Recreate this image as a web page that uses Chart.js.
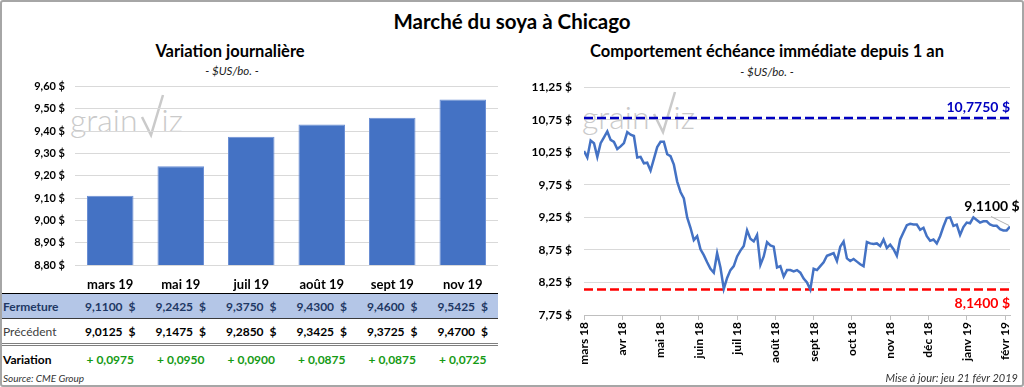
<!DOCTYPE html>
<html lang="fr">
<head>
<meta charset="utf-8">
<title>Marché du soya à Chicago</title>
<script src="https://cdn.jsdelivr.net/npm/chart.js@4.4.1/dist/chart.umd.min.js"></script>
<style>
  body { margin: 0; background: #fff; font-family: Lato, "Noto Sans", sans-serif; }
  #cadre { position: relative; width: 1024px; height: 387px; overflow: hidden; background: #fff; }
  #bordure { position: absolute; left: 0; top: 0; width: 1024px; height: 387px; box-sizing: border-box;
             border: 2px solid #a6a6a6; border-radius: 3px; pointer-events: none; }
  .abs { position: absolute; white-space: nowrap; }
  .titre { font-weight: bold; text-align: center; line-height: 1; }
  .sous { font-style: italic; font-size: 11.5px; text-align: center; line-height: 1; color: #222; }
  canvas { position: absolute; }
  .filigrane { position: absolute; color: #cacaca; font-size: 32px; font-weight: 300; line-height: 32px; }
  .filigrane svg { position: absolute; }
  .rangee { position: absolute; left: 0; width: 498px; display: flex; align-items: center;
            box-sizing: border-box; font-size: 12px; }
  .tete { width: 75px; padding-left: 3px; box-sizing: border-box; }
  .cell { width: 70.5px; text-align: center; font-weight: bold; }
  .cell i { font-style: normal; margin-left: 6px; }
  .note { font-style: italic; font-size: 10px; line-height: 1; color: #333; }
</style>
</head>
<body>
<div id="cadre">
  <div class="abs titre" style="left:212px; width:600px; top:11px; font-size:20.5px;">Marché du soya à Chicago</div>

  <div class="abs titre" style="left:30px; width:400px; top:43px; font-size:16.5px;">Variation journalière</div>
  <div class="abs sous" style="left:132px; width:200px; top:65px;">- $US/bo. -</div>

  <div class="abs titre" style="left:517px; width:500px; top:43px; font-size:16.5px;">Comportement échéance immédiate depuis 1 an</div>
  <div class="abs sous" style="left:667px; width:200px; top:66px;">- $US/bo. -</div>

  <div class="filigrane" style="left:70px; top:104px;">grain<svg style="left:70px; top:-11px" width="26" height="46"><polyline points="2,24 11,42 23,2" fill="none" stroke="#cacaca" stroke-width="2.5"/></svg><span style="margin-left:24px">iz</span></div>
  <div class="filigrane" style="left:582px; top:101px;">grain<svg style="left:70px; top:-11px" width="26" height="46"><polyline points="2,24 11,42 23,2" fill="none" stroke="#cacaca" stroke-width="2.5"/></svg><span style="margin-left:24px">iz</span></div>

  <canvas id="barres" width="505" height="223" style="left:0; top:70px;"></canvas>
  <canvas id="ligne" width="519" height="307" style="left:505px; top:68px;"></canvas>

  <div id="r1" class="rangee" style="top:293px; height:25px; border-top:1px solid #000; background:#b4c6e7; color:#1f3864;"></div>
  <div id="r2" class="rangee" style="top:318px; height:25px; border-top:1px solid #3a3a3a; color:#000;"></div>
  <div id="r3" class="rangee" style="top:343px; height:29px; border-top:3px double #7f7f7f; color:#000;"></div>

  <div class="abs note" style="left:3px; top:373px;">Source: CME Group</div>
  <div class="abs note" style="right:6px; top:372px; font-size:11px;">Mise à jour: jeu 21 févr 2019</div>
  <div id="bordure"></div>
</div>

<script>
// contrats a terme (graphique de gauche + tableau)
const contrats = ["mars 19", "mai 19", "juil 19", "août 19", "sept 19", "nov 19"];
const fermeture = [9.1100, 9.2425, 9.3750, 9.4300, 9.4600, 9.5425];
const precedent = [9.0125, 9.1475, 9.2850, 9.3425, 9.3725, 9.4700];
const variation = [0.0975, 0.0950, 0.0900, 0.0875, 0.0875, 0.0725];

// echeance immediate, 1 an (graphique de droite)
const moisEtiquettes = ["mars 18", "avr 18", "mai 18", "juin 18", "juil 18", "août 18",
  "sept 18", "oct 18", "nov 18", "déc 18", "janv 19", "févr 19"];
const POINTS_PAR_MOIS = 11.5;
const coursSoya = [
  10.27, 10.17, 10.43, 10.39, 10.18, 10.39, 10.48, 10.57, 10.44, 10.41, 10.30, 10.34, 10.39, 10.56,
  10.52, 10.50, 10.17, 10.18, 10.08, 10.09, 9.97, 10.15, 10.33, 10.41, 10.41, 10.22, 10.19, 10.06,
  9.80, 9.64, 9.54,
  9.25, 9.09, 8.90, 8.96, 8.76, 8.67, 8.56, 8.46, 8.40, 8.70, 8.48, 8.15, 8.32, 8.44, 8.50, 8.65,
  8.74, 8.81, 9.05, 8.92, 8.88, 8.98, 8.52, 8.65, 8.87, 8.82, 8.80, 8.48, 8.50, 8.34, 8.44, 8.44, 8.42,
  8.44, 8.40, 8.31, 8.25, 8.14, 8.46, 8.44, 8.50, 8.56, 8.66, 8.68, 8.70, 8.58, 8.80, 8.88, 8.62,
  8.58, 8.61, 8.57, 8.53, 8.50, 8.87, 8.85, 8.84, 8.85, 8.81, 8.91, 8.78, 8.83, 8.76, 8.66, 8.91, 9.02,
  9.13, 9.15, 9.14, 9.14, 9.06, 9.09, 8.96, 8.89, 8.91, 8.85, 8.96, 9.11, 9.24, 9.25, 9.12, 9.14,
  8.98, 9.10, 9.17, 9.16, 9.25, 9.21, 9.17, 9.19, 9.19, 9.14, 9.12, 9.12, 9.07, 9.05, 9.05, 9.11
];
const plusHaut = 10.775;
const plusBas = 8.14;

const virgule = (v, d) => v.toFixed(d).replace(".", ",");

Chart.defaults.font.family = "Lato, 'Noto Sans', sans-serif";
Chart.defaults.color = "#000";

// tableau sous les barres
function rangee(id, titre, styleTitre, valeurs, texte) {
  document.getElementById(id).innerHTML =
    `<span class="tete" style="${styleTitre}">${titre}</span>` +
    valeurs.map((v) => `<span class="cell">${texte(v)}</span>`).join("");
}
rangee("r1", "Fermeture", "font-weight:bold", fermeture, (v) => `${virgule(v, 4)}<i>$</i>`);
rangee("r2", "Précédent", "color:#404040", precedent, (v) => `${virgule(v, 4)}<i>$</i>`);
rangee("r3", "Variation", "font-weight:bold", variation,
  (v) => `<span style="color:#159a15">+ ${virgule(v, 4)}</span>`);

new Chart(document.getElementById("barres"), {
  type: "bar",
  data: {
    labels: contrats,
    datasets: [{
      data: fermeture,
      backgroundColor: "#4472c4",
      borderColor: "#6b8fd4",
      borderWidth: { left: 1, right: 1, top: 1, bottom: 0 },
      barPercentage: 0.66,
      categoryPercentage: 1,
    }],
  },
  options: {
    responsive: false,
    animation: false,
    layout: { padding: { top: 0, right: 7, left: 0, bottom: 0 } },
    plugins: { legend: { display: false }, tooltip: { enabled: false } },
    scales: {
      x: {
        grid: { display: false, drawTicks: false },
        border: { display: false },
        ticks: { font: { size: 13, weight: "bold" }, padding: 12 },
        afterFit: (s) => { s.height = 28; },
      },
      y: {
        min: 8.8,
        max: 9.6,
        ticks: { stepSize: 0.1, padding: 10, font: { size: 11, weight: "bold" },
                 callback: (v) => virgule(v, 2) + " $" },
        grid: { color: "#d9d9d9", drawTicks: false },
        border: { display: false },
        afterFit: (s) => { s.width = 75; },
      },
    },
  },
});

// etiquettes des extremes et du dernier cours
const etiquettes = {
  id: "etiquettes",
  afterDatasetsDraw(chart) {
    const { ctx, chartArea, scales: { x, y } } = chart;
    ctx.save();
    ctx.font = "bold 14px Lato";
    ctx.textAlign = "right";
    ctx.fillStyle = "#0000c0";
    ctx.textBaseline = "alphabetic";
    ctx.fillText(virgule(plusHaut, 4) + " $", chartArea.right, y.getPixelForValue(plusHaut) - 6);
    ctx.fillStyle = "#ff0000";
    ctx.textBaseline = "top";
    ctx.fillText(virgule(plusBas, 4) + " $", chartArea.right, y.getPixelForValue(plusBas) + 7);

    const dernier = coursSoya[coursSoya.length - 1];
    const px = x.getPixelForValue((coursSoya.length - 1) / POINTS_PAR_MOIS);
    const py = y.getPixelForValue(dernier);
    ctx.strokeStyle = "#b0b0b0";
    ctx.lineWidth = 1;
    ctx.beginPath();
    ctx.moveTo(px - 19, py - 10);
    ctx.lineTo(px - 1, py - 1);
    ctx.stroke();
    ctx.fillStyle = "#000";
    ctx.textAlign = "center";
    ctx.textBaseline = "alphabetic";
    ctx.fillText(virgule(dernier, 4) + " $", px - 18, py - 15);
    ctx.restore();
  },
};

const finX = (coursSoya.length - 1) / POINTS_PAR_MOIS;

new Chart(document.getElementById("ligne"), {
  type: "line",
  data: {
    datasets: [
      {
        data: coursSoya.map((v, i) => ({ x: i / POINTS_PAR_MOIS, y: v })),
        borderColor: "#4472c4",
        borderWidth: 2.5,
        pointRadius: 0,
        tension: 0,
      },
      {
        data: [{ x: 0, y: plusHaut }, { x: finX, y: plusHaut }],
        borderColor: "#0000c0",
        borderWidth: 2.5,
        borderDash: [9, 4],
        pointRadius: 0,
      },
      {
        data: [{ x: 0, y: plusBas }, { x: finX, y: plusBas }],
        borderColor: "#ff0000",
        borderWidth: 2.5,
        borderDash: [9, 4],
        pointRadius: 0,
      },
    ],
  },
  options: {
    responsive: false,
    animation: false,
    layout: { padding: { top: 0, right: 14, left: 0, bottom: 0 } },
    plugins: { legend: { display: false }, tooltip: { enabled: false } },
    scales: {
      x: {
        type: "linear",
        min: 0,
        max: finX,
        afterBuildTicks: (s) => { s.ticks = moisEtiquettes.map((_, i) => ({ value: i })); },
        ticks: {
          autoSkip: false,
          maxRotation: 90,
          minRotation: 90,
          padding: 2,
          font: { size: 12, weight: "bold" },
          callback: (v) => moisEtiquettes[v] ?? "",
        },
        grid: { drawOnChartArea: false, color: "#bfbfbf", tickLength: 5 },
        border: { color: "#bfbfbf" },
        afterFit: (s) => { s.height = 60; },
      },
      y: {
        min: 7.75,
        max: 11.25,
        ticks: { stepSize: 0.5, padding: 12, font: { size: 12, weight: "bold" },
                 callback: (v) => virgule(v, 2) + " $" },
        grid: { color: "#d9d9d9", drawTicks: false },
        border: { display: false },
        afterFit: (s) => { s.width = 79; },
      },
    },
  },
  plugins: [etiquettes],
});
</script>
</body>
</html>
